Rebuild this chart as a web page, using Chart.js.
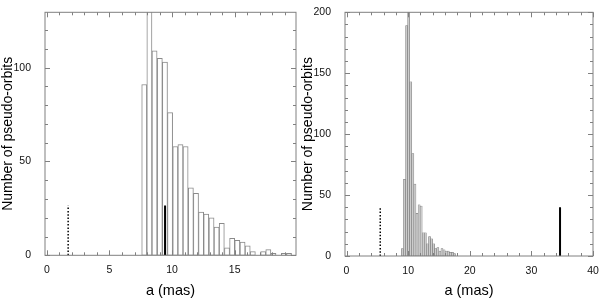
<!DOCTYPE html>
<html>
<head>
<meta charset="utf-8">
<script src="https://cdn.jsdelivr.net/npm/chart.js@4.4.1/dist/chart.umd.min.js"></script>
<style>
  html, body { margin: 0; padding: 0; background: #fff; }
  .wrap { display: flex; width: 600px; height: 301px; }
  .panel { position: relative; width: 300px; height: 301px; }
</style>
</head>
<body>
<div class="wrap">
  <div class="panel"><canvas id="chart-left"></canvas></div>
  <div class="panel"><canvas id="chart-right"></canvas></div>
</div>
<script>
// Left histogram: bin centres (mas) and counts
const leftBins = [7.78, 8.19, 8.60, 9.02, 9.43, 9.84, 10.26, 10.67, 11.08, 11.50,
    11.91, 12.32, 12.73, 13.15, 13.56, 13.97, 14.39, 14.80, 15.21, 15.63,
    16.04, 16.45, 16.86, 17.28, 17.69, 18.10, 18.52, 18.93, 19.34];
const leftCounts = [91, 140, 109, 105, 103, 76, 58, 59, 58, 36,
    33, 23, 22, 20, 15, 17, 4, 9, 8, 7,
    5, 2, 0, 2, 3, 1, 0, 1, 1];
const leftDotted = [1.7, 26.5];   // [a, height]
const leftSolid = [9.44, 26.5];
const leftXLabels = [0, 5, 10, 15];
const leftYLabels = [0, 50, 100];

// Right histogram
const rightBins = [9.07, 9.41, 9.75, 10.08, 10.42, 10.76, 11.10, 11.44, 11.78, 12.11,
    12.45, 12.79, 13.13, 13.47, 13.80, 14.14, 14.48, 14.82, 15.16, 15.49,
    15.83, 16.17, 16.51, 16.85, 17.19, 17.52];
const rightCounts = [6, 63, 189, 200, 143, 84, 59, 35, 42, 41,
    19, 19, 10, 16, 14, 10, 6, 7, 4, 6,
    5, 4, 4, 3, 3, 2];
const rightDotted = [5.47, 40];
const rightSolid = [34.65, 40];
const rightXLabels = [0, 10, 20, 30, 40];
const rightYLabels = [0, 50, 100, 150, 200];

const FONT = "'Liberation Sans', Arial, sans-serif";
const frameColor = '#808080';

// frame + inward ticks on all four sides
const framePlugin = {
    id: 'frame',
    afterDatasetsDraw(chart, args, opts) {
        const { ctx, chartArea: a, scales } = chart;
        ctx.save();
        ctx.strokeStyle = frameColor;
        ctx.lineWidth = 1;
        ctx.strokeRect(a.left, a.top, a.right - a.left, a.bottom - a.top);
        ctx.beginPath();
        scales.x.ticks.forEach(t => {
            const px = Math.round(scales.x.getPixelForValue(t.value)) + 0.5;
            const len = opts.xMajor.includes(t.value) ? 5 : 3;
            ctx.moveTo(px, a.bottom); ctx.lineTo(px, a.bottom - len);
            ctx.moveTo(px, a.top); ctx.lineTo(px, a.top + len);
        });
        scales.y.ticks.forEach(t => {
            const py = Math.round(scales.y.getPixelForValue(t.value)) + 0.5;
            const len = opts.yMajor.includes(t.value) ? 5 : 3;
            ctx.moveTo(a.left, py); ctx.lineTo(a.left + len, py);
            ctx.moveTo(a.right, py); ctx.lineTo(a.right - len, py);
        });
        ctx.stroke();
        ctx.restore();
    }
};

function marker(pt, dashed) {
    return {
        type: 'line',
        data: [{ x: pt[0], y: 0 }, { x: pt[0], y: pt[1] }],
        borderColor: '#000',
        borderWidth: dashed ? 1.5 : 2,
        borderDash: dashed ? [1.5, 1.8] : [],
        pointRadius: 0,
        order: 1
    };
}

function makeChart(id, cfg) {
    const ctx = document.getElementById(id);
    return new Chart(ctx, {
        type: 'bar',
        data: {
            datasets: [{
                type: 'bar',
                data: cfg.bins.map((b, i) => ({ x: b, y: cfg.counts[i] })),
                backgroundColor: cfg.fill,
                borderColor: cfg.edge,
                borderWidth: cfg.edgeWidth,
                borderSkipped: false,
                barPercentage: 1,
                categoryPercentage: 1,
                order: 2
            },
            marker(cfg.dotted, true),
            marker(cfg.solid, false)]
        },
        options: {
            responsive: true,
            maintainAspectRatio: false,
            animation: false,
            events: [],
            layout: { padding: { top: cfg.padTop, right: cfg.padRight, left: 0, bottom: 0 } },
            plugins: {
                legend: { display: false },
                tooltip: { enabled: false },
                frame: { xMajor: cfg.xLabels, yMajor: cfg.yLabels }
            },
            scales: {
                x: {
                    type: 'linear',
                    min: cfg.xMin,
                    max: cfg.xMax,
                    offset: false,
                    grid: { display: false },
                    border: { display: false },
                    afterFit: s => { s.height = cfg.xAxisH; },
                    ticks: {
                        stepSize: cfg.xStep,
                        includeBounds: false,
                        autoSkip: false,
                        maxRotation: 0,
                        padding: 1,
                        color: '#111',
                        font: { family: FONT, size: 10.5 },
                        callback: v => cfg.xLabels.includes(v) ? String(v) : ''
                    },
                    title: {
                        display: true,
                        text: 'a (mas)',
                        color: '#000',
                        font: { family: FONT, size: 14.5 },
                        padding: { top: 0, bottom: 1 }
                    }
                },
                y: {
                    min: 0,
                    max: cfg.yMax,
                    grid: { display: false },
                    border: { display: false },
                    afterFit: s => { s.width = 45; },
                    ticks: {
                        stepSize: 10,
                        includeBounds: false,
                        autoSkip: false,
                        padding: 6,
                        color: '#111',
                        font: { family: FONT, size: 10.5 },
                        callback: v => cfg.yLabels.includes(v) ? String(v) : ''
                    },
                    title: {
                        display: true,
                        text: 'Number of pseudo-orbits',
                        color: '#000',
                        font: { family: FONT, size: 14 },
                        padding: { top: 0, bottom: 0 }
                    }
                }
            }
        },
        plugins: [framePlugin]
    });
}

makeChart('chart-left', {
    bins: leftBins, counts: leftCounts,
    dotted: leftDotted, solid: leftSolid,
    xLabels: leftXLabels, yLabels: leftYLabels,
    xMin: -0.15, xMax: 19.9, xStep: 1, yMax: 129.5,
    fill: '#ffffff', edge: '#8a8a8a', edgeWidth: 1,
    padTop: 2.5, padRight: 4, xAxisH: 45.7
});

makeChart('chart-right', {
    bins: rightBins, counts: rightCounts,
    dotted: rightDotted, solid: rightSolid,
    xLabels: rightXLabels, yLabels: rightYLabels,
    xMin: -0.25, xMax: 40, xStep: 2, yMax: 200,
    fill: '#cccccc', edge: '#6e6e6e', edgeWidth: 0.5,
    padTop: 9.3, padRight: 7, xAxisH: 45
});
</script>
</body>
</html>
